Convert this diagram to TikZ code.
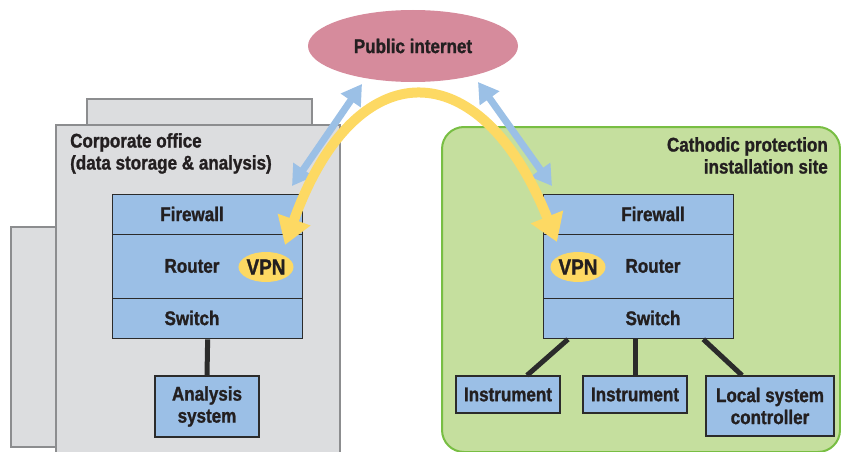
\documentclass[tikz,border=0pt]{standalone}
\usepackage{fontspec}
\setmainfont[FakeStretch=0.86, BoldFeatures={FakeBold=1.2}]{Liberation Sans}
\usetikzlibrary{arrows.meta,shapes.geometric,calc}
\definecolor{bldfill}{HTML}{DCDDDF}
\definecolor{bldline}{HTML}{8C8D8F}
\definecolor{sitefill}{HTML}{C5DF9E}
\definecolor{siteline}{HTML}{78BE43}
\definecolor{boxblue}{HTML}{9BBFE6}
\definecolor{boxline}{HTML}{2B2B2B}
\definecolor{txt}{HTML}{231F20}
\definecolor{netpink}{HTML}{D68B9C}
\definecolor{vpnyel}{HTML}{FDD963}
\definecolor{arrblue}{HTML}{9BC0E6}
\begin{document}
\begin{tikzpicture}[x=1pt,y=-1pt,
  every node/.style={font=\bfseries\fontsize{19.8}{22}\selectfont, text=txt},
  bld/.style={draw=bldline, fill=bldfill, line width=2.2pt},
  bluebox/.style={draw=boxline, fill=boxblue, line width=1.3pt, inner sep=0pt, anchor=north west},
  vpn/.style={ellipse, fill=vpnyel, inner sep=0pt, minimum width=53pt, minimum height=30pt, font=\bfseries\fontsize{22}{24}\selectfont},
  wire/.style={draw=boxline, line width=5pt},
  netarrow/.style={draw=arrblue, line width=7pt, {Triangle[length=20pt,width=23pt]}-{Triangle[length=20pt,width=23pt]}},
  tunnel/.style={draw=vpnyel, line width=10pt, {Triangle[length=27pt,width=33pt]}-{Triangle[length=27pt,width=33pt]}}
]
\useasboundingbox (0,0) rectangle (841,452);
% corporate office building
\draw[bld] (87,125) -- (87,99) -- (312,99) -- (312,125);
\draw[bld] (56,227) -- (11,227) -- (11,447) -- (56,447);
\draw[bld] (56,460) -- (56,125) -- (340,125) -- (340,460);
\node[anchor=north west, align=left, inner sep=0pt] (corp) at (70,133) {Corporate office\\(data storage \& analysis)};
% installation site
\draw[draw=siteline, fill=sitefill, line width=2pt, rounded corners=22pt] (442,127) rectangle (840,452);
\node[anchor=north east, align=right, inner sep=0pt] (site) at (828,137) {Cathodic protection\\installation site};
% public internet
\node[ellipse, fill=netpink, minimum width=210pt, minimum height=72pt, inner sep=0pt] (net) at (413,46) {Public internet};
% left stack
\node[bluebox, minimum width=190pt, minimum height=40pt] (lfw) at (112,194) {};
\node[bluebox, minimum width=190pt, minimum height=64pt] (lrt) at (112,234) {};
\node[bluebox, minimum width=190pt, minimum height=40pt] (lsw) at (112,298) {};
\node (lfwt) at (192,214) {Firewall};
\node (lrtt) at (192,266) {Router};
\node (lswt) at (192,318) {Switch};
\node[vpn] (lvpn) at (266,267) {VPN};
\node[bluebox, minimum width=104pt, minimum height=61pt, align=center, anchor=center] (ana) at (207,406.5) {Analysis\\system};
\draw[wire] (lsw.south) -- (ana.north);
% right stack
\node[bluebox, minimum width=190pt, minimum height=40pt] (rfw) at (543,194) {};
\node[bluebox, minimum width=190pt, minimum height=64pt] (rrt) at (543,234) {};
\node[bluebox, minimum width=190pt, minimum height=40pt] (rsw) at (543,298) {};
\node (rfwt) at (653,214) {Firewall};
\node (rrtt) at (653,266) {Router};
\node (rswt) at (653,318) {Switch};
\node[vpn] (rvpn) at (578,267) {VPN};
\node[bluebox, minimum width=104pt, minimum height=37pt, anchor=center] (i1) at (508,394.5) {Instrument};
\node[bluebox, minimum width=104pt, minimum height=37pt, anchor=center] (i2) at (635,394.5) {Instrument};
\node[bluebox, minimum width=128pt, minimum height=60pt, align=center, anchor=center] (lsc) at (770,406) {Local system\\controller};
\draw[wire] ([xshift=25pt]rsw.south west) -- ([xshift=19pt]i1.north);
\draw[wire] (i2.north |- rsw.south) -- (i2.north);
\draw[wire] ([xshift=-31pt]rsw.south east) -- ([xshift=-28pt]lsc.north);
% network arrows
\coordinate (nl) at (362,84);
\coordinate (cl) at (292,186);
\coordinate (nr) at (478,82);
\coordinate (cr) at (552,186);
\draw[netarrow] (nl) -- (cl);
\draw[netarrow] (nr) -- (cr);
% VPN tunnel
\coordinate (tl) at (285,245);
\coordinate (tr) at (557,242);
\draw[tunnel] (tl) .. controls (355,50) and (480,50) .. (tr);
\end{tikzpicture}
\end{document}
